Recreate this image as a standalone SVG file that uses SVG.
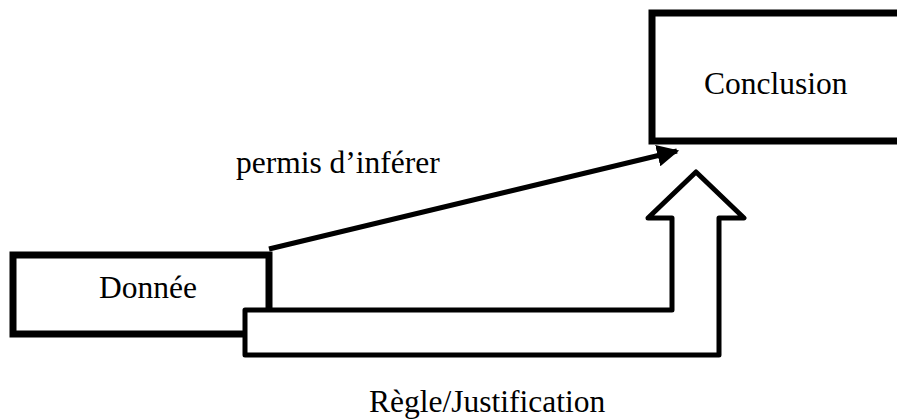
<svg xmlns="http://www.w3.org/2000/svg" width="897" height="419" viewBox="0 0 897 419">
<style>
text{font-family:"Liberation Serif","Times New Roman",serif;font-size:31.5px;fill:#000}
.box{fill:#fff;stroke:#000;stroke-width:7}
.conn{fill:none;stroke:#000;stroke-width:5}
.big{fill:#fff;stroke:#000;stroke-width:5;stroke-linejoin:round}
</style>
<defs>
<marker id="ah" viewBox="0 0 10 10" refX="9" refY="5" markerWidth="4.4" markerHeight="4.4" markerUnits="strokeWidth" orient="auto">
<path d="M0,0 L10,5 L0,10 Z" fill="#000"/>
</marker>
</defs>
<rect width="897" height="419" fill="#fff"/>
<g id="conclusion">
<rect class="box" x="652" y="13" width="260" height="128"/>
<text x="704" y="94">Conclusion</text>
</g>
<g id="donnee">
<rect class="box" x="13" y="255" width="256" height="79"/>
<text x="99" y="298">Donnée</text>
</g>
<g id="connectors">
<line class="conn" x1="269" y1="249" x2="677" y2="151" marker-end="url(#ah)"/>
<path class="big" d="M245 310 L672 310 L672 218 L648 218 L696 172 L744 218 L719 218 L719 355 L245 355 Z"/>
</g>
<g id="labels">
<text x="236" y="173">permis d’inférer</text>
<text x="369" y="412">Règle/Justification</text>
</g>
</svg>
